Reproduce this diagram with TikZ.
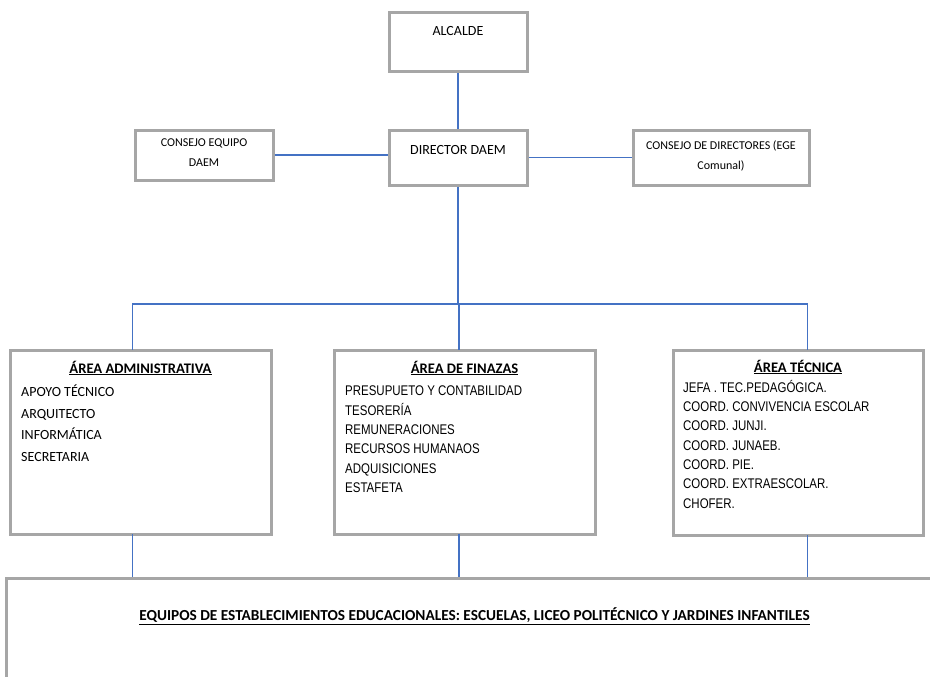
\documentclass[tikz,border=0pt]{standalone}
\usepackage{fontspec}
\setmainfont{Carlito}
\newfontfamily\narrowfont[FakeStretch=0.82]{Liberation Sans}
\definecolor{boxgray}{HTML}{A6A6A6}
\definecolor{linkblue}{HTML}{4472C4}
\tikzset{
  box/.style={draw=boxgray, line width=3pt, fill=white, inner sep=0pt},
  conn/.style={draw=linkblue, line width=1.2pt},
  lbl/.style={inner sep=0pt, font=\fontsize{14}{17}\selectfont},
  small/.style={inner sep=0pt, align=center, font=\fontsize{12}{20}\selectfont},
  head/.style={inner sep=0pt, font=\fontsize{14.6}{17}\selectfont\bfseries},
  bighead/.style={inner sep=0pt, font=\fontsize{15.3}{18}\selectfont\bfseries},
  calist/.style={inner sep=0pt, align=left, anchor=north west, font=\fontsize{14}{21.5}\selectfont},
  narlist/.style={inner sep=0pt, align=left, anchor=north west, font=\fontsize{14}{19.3}\narrowfont\selectfont}
}
\begin{document}
\begin{tikzpicture}[x=1pt,y=-1pt]
\clip (0,0) rectangle (930,677);
\fill[white] (0,0) rectangle (930,677);
% boxes
\node[box, minimum width=138pt, minimum height=59pt] (alc) at (458,42.5) {};
\node[box, minimum width=138pt, minimum height=55pt] (dir) at (458,157.5) {};
\node[box, minimum width=138pt, minimum height=50pt] (ceq) at (204,155) {};
\node[box, minimum width=176pt, minimum height=55pt] (cdir) at (721,157.5) {};
\node[box, minimum width=261pt, minimum height=184pt] (adm) at (140.5,442) {};
\node[box, minimum width=261pt, minimum height=184pt] (fin) at (464.5,442) {};
\node[box, minimum width=250pt, minimum height=185pt] (tec) at (798,442.5) {};
\node[box, minimum width=940pt, minimum height=140pt] (eq) at (476,648) {};
% texts
\node[lbl] (talc) at (458,31) {ALCALDE};
\node[lbl] (tdir) at (458,150) {DIRECTOR DAEM};
\node[small] (tceq) at (204,153) {CONSEJO EQUIPO\\DAEM};
\node[small] (tcdir) at (721,156) {CONSEJO DE DIRECTORES (EGE\\Comunal)};
\node[head] (hadm) at (140.5,368) {\underline{ÁREA ADMINISTRATIVA}};
\node[calist] (ladm) at (21,385) {APOYO TÉCNICO\\ARQUITECTO\\INFORMÁTICA\\SECRETARIA};
\node[head] (hfin) at (464.5,368) {\underline{ÁREA DE FINAZAS}};
\node[narlist] (lfin) at (345,386) {PRESUPUETO Y CONTABILIDAD\\TESORERÍA\\REMUNERACIONES\\RECURSOS HUMANAOS\\ADQUISICIONES\\ESTAFETA};
\node[head] (htec) at (798,367) {\underline{ÁREA TÉCNICA}};
\node[narlist] (ltec) at (683,380) {JEFA . TEC.PEDAGÓGICA.\\COORD. CONVIVENCIA ESCOLAR\\COORD. JUNJI.\\COORD. JUNAEB.\\COORD. PIE.\\COORD. EXTRAESCOLAR.\\CHOFER.};
\node[bighead] (teq) at (474.5,616) {\underline{EQUIPOS DE ESTABLECIMIENTOS EDUCACIONALES: ESCUELAS, LICEO POLITÉCNICO Y JARDINES INFANTILES}};
% connector points
\coordinate (bus) at (458,304);
\coordinate (ta) at (132.5,350);
\coordinate (tf) at (459,350);
\coordinate (tt) at (807.5,350);
\coordinate (ba) at (132.5,534);
\coordinate (bf) at (459,534);
\coordinate (bt) at (807.5,535);
% connectors
\draw[conn] (alc.south) -- (dir.north);
\draw[conn] (ceq.east) -- (ceq.east -| dir.west);
\draw[conn] (dir.east) -- (dir.east -| cdir.west);
\draw[conn] (dir.south) -- (bus);
\draw[conn] (ta) -- (ta |- bus) -- (tt |- bus) -- (tt);
\draw[conn] (tf |- bus) -- (tf);
\draw[conn] (ba) -- (ba |- eq.north);
\draw[conn] (bf) -- (bf |- eq.north);
\draw[conn] (bt) -- (bt |- eq.north);
\end{tikzpicture}
\end{document}
